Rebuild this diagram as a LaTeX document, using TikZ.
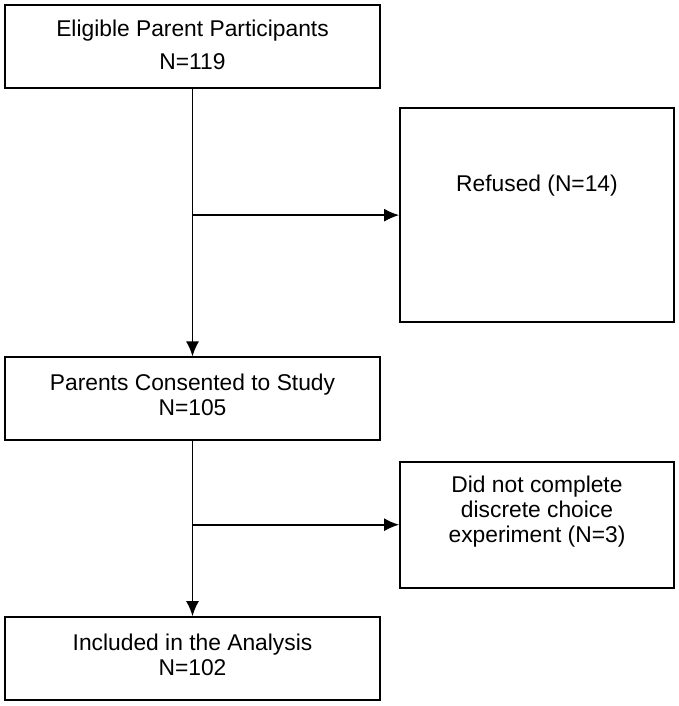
\documentclass[tikz,border=0pt]{standalone}
\usepackage{fontspec}
\setmainfont{Liberation Sans}
\usetikzlibrary{arrows.meta}

\begin{document}
\begin{tikzpicture}[>={Latex[length=7.5pt,width=6.5pt]}, x=0.5pt, y=-0.5pt, line width=0.85pt,
  box/.style={draw, rectangle, inner sep=0pt},
  txt/.style={anchor=north, inner sep=0pt, align=center, font=\fontsize{11.4}{12.5}\selectfont}]
\useasboundingbox (0,0) rectangle (679,706);
\node[box, minimum width=187.5pt, minimum height=41.5pt] (elig) at (192.5,46.2) {};
\node[box, minimum width=137pt, minimum height=106.85pt] (refu) at (537,215.15) {};
\node[box, minimum width=187.5pt, minimum height=41.35pt] (cons) at (192.5,398.65) {};
\node[box, minimum width=137pt, minimum height=63pt] (dnc) at (537,524.7) {};
\node[box, minimum width=187.5pt, minimum height=41.5pt] (incl) at (192.5,658.5) {};

\node[txt, font=\fontsize{11.4}{16.5}\selectfont] (elig-t) at (192.5,19) {Eligible Parent Participants\\N=119};
\node[txt] (refu-t) at (537,174) {Refused (N=14)};
\node[txt] (cons-t) at (192.5,373) {Parents Consented to Study\\N=105};
\node[txt] (dnc-t) at (537,475) {Did not complete\\discrete choice\\experiment (N=3)};
\node[txt] (incl-t) at (192.5,633) {Included in the Analysis\\N=102};

\coordinate (br1) at (elig.south |- refu.west);
\coordinate (br2) at (cons.south |- dnc.west);
\draw[->] (elig) -- (cons);
\draw[->] (br1) -- (refu.west);
\draw[->] (cons) -- (incl);
\draw[->] (br2) -- (dnc.west);
\end{tikzpicture}
\end{document}
